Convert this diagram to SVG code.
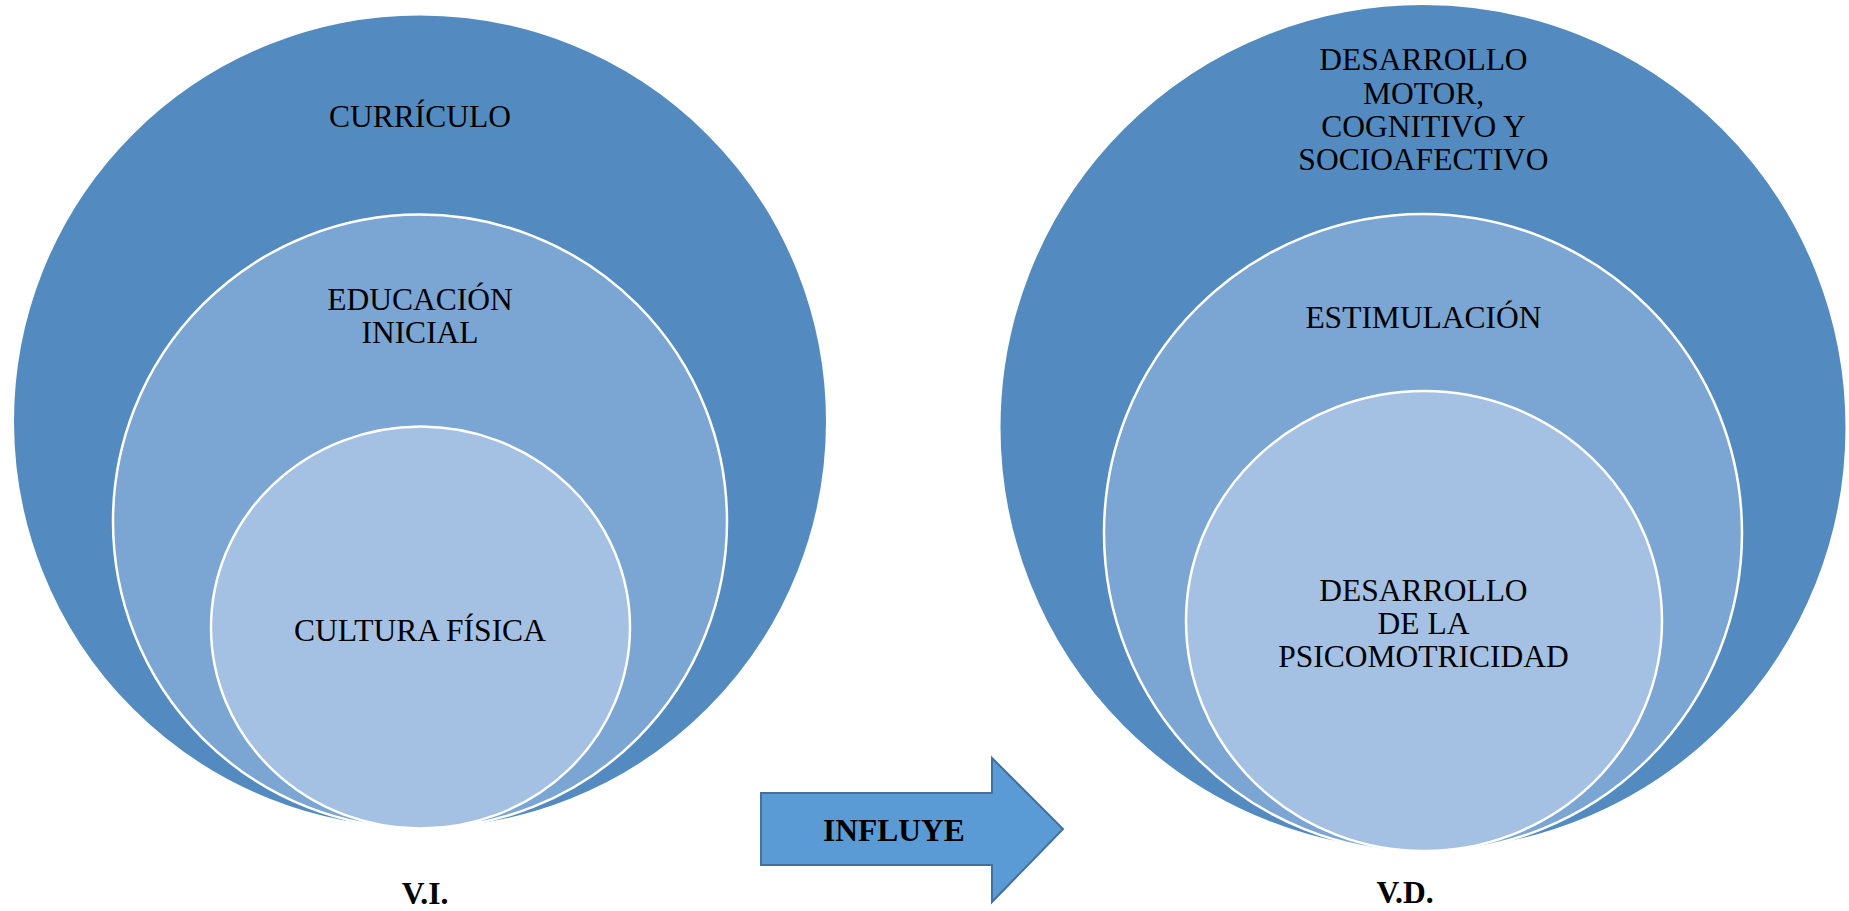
<svg xmlns="http://www.w3.org/2000/svg" width="1849" height="911" viewBox="0 0 1849 911">
<style>
.outer{fill:#538BC0;stroke:#FFFFFF;stroke-width:2}
.mid{fill:#7BA5D2;stroke:#FFFFFF;stroke-width:2.5}
.inner{fill:#A4C0E3;stroke:#FFFFFF;stroke-width:2.5}
.t{font-family:"Liberation Serif","Times New Roman",serif;font-size:31.5px;fill:#000;text-anchor:middle}
.b{font-weight:bold}
.arrow{fill:#5B9BD5;stroke:#41719C;stroke-width:2}
</style>
<rect width="1849" height="911" fill="#FFFFFF"/>
<g id="vi">
  <g id="curriculo">
    <circle class="outer" cx="420" cy="421.5" r="407"/>
    <text class="t" x="420" y="127">CURRÍCULO</text>
  </g>
  <g id="educacion-inicial">
    <circle class="mid" cx="420" cy="521.5" r="307"/>
    <text class="t" x="420" y="310">EDUCACIÓN</text>
    <text class="t" x="420" y="343">INICIAL</text>
  </g>
  <g id="cultura-fisica">
    <ellipse class="inner" cx="420.5" cy="627.5" rx="209.5" ry="201"/>
    <text class="t" x="420" y="641">CULTURA FÍSICA</text>
  </g>
  <text id="label-vi" class="t b" x="425" y="904">V.I.</text>
</g>
<g id="vd">
  <g id="desarrollo-motor">
    <circle class="outer" cx="1423" cy="427.5" r="423.5"/>
    <text class="t" x="1423.5" y="70">DESARROLLO</text>
    <text class="t" x="1423.5" y="104">MOTOR,</text>
    <text class="t" x="1423.5" y="137">COGNITIVO Y</text>
    <text class="t" x="1423.5" y="170">SOCIOAFECTIVO</text>
  </g>
  <g id="estimulacion">
    <circle class="mid" cx="1423" cy="533" r="319"/>
    <text class="t" x="1423.5" y="328">ESTIMULACIÓN</text>
  </g>
  <g id="psicomotricidad">
    <ellipse class="inner" cx="1424" cy="621" rx="238" ry="230"/>
    <text class="t" x="1423.5" y="601">DESARROLLO</text>
    <text class="t" x="1423.5" y="634">DE LA</text>
    <text class="t" x="1423.5" y="667">PSICOMOTRICIDAD</text>
  </g>
  <text id="label-vd" class="t b" x="1405" y="903">V.D.</text>
</g>
<g id="connectors">
  <g id="influye">
    <polygon class="arrow" points="761,793 992,793 992,758 1063,829 992,902 992,865 761,865"/>
    <text class="t b" x="894" y="841">INFLUYE</text>
  </g>
</g>
</svg>
